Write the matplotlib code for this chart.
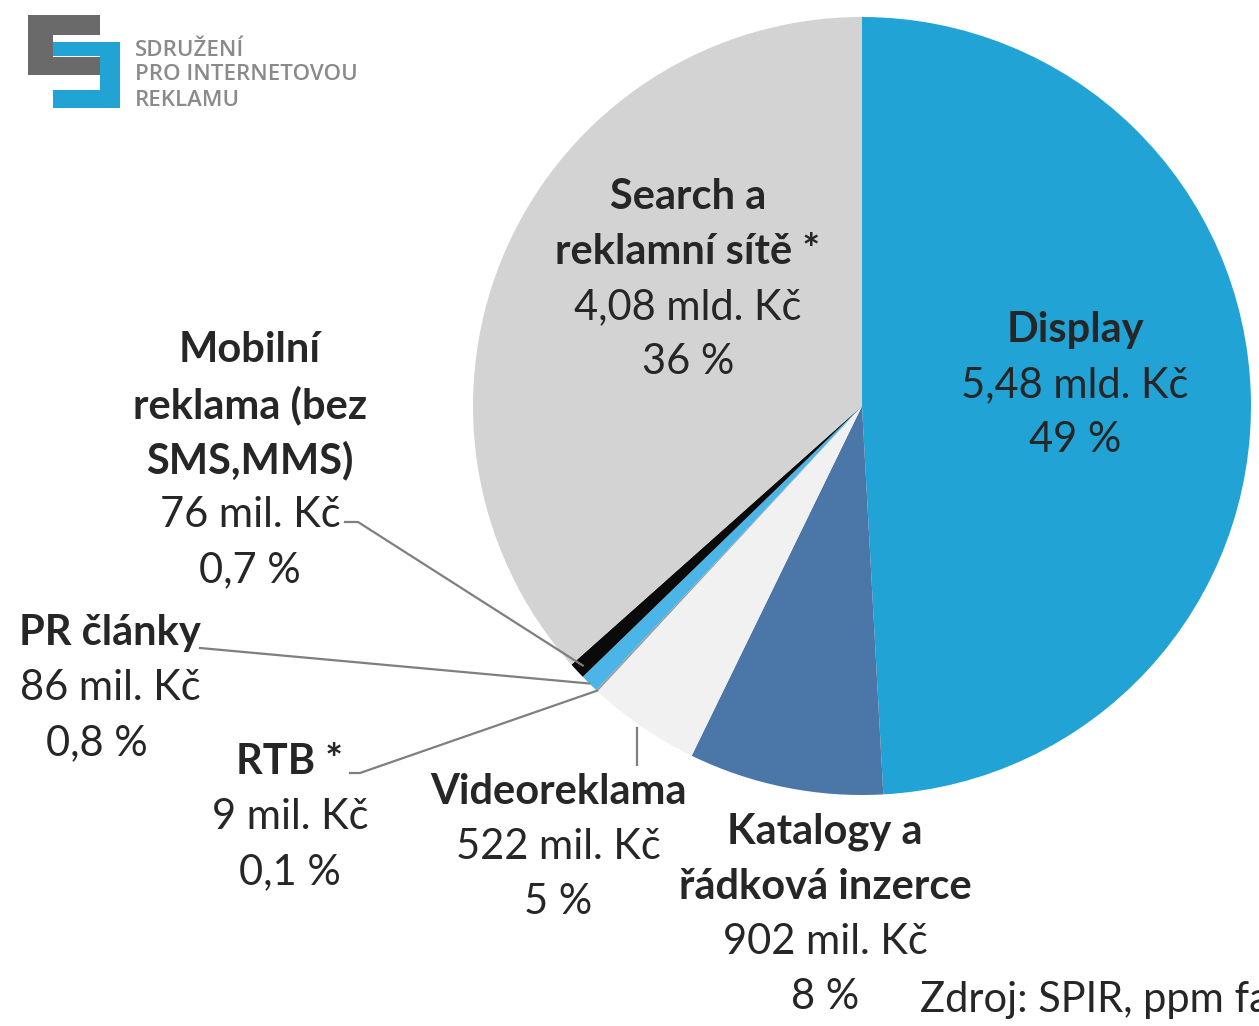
import numpy as np
import matplotlib.pyplot as plt
from matplotlib.patches import Rectangle

categories = ["Display", "Katalogy a\nřádková inzerce", "Videoreklama", "RTB *",
              "PR články", "Mobilní\nreklama (bez\nSMS,MMS)", "Search a\nreklamní sítě *"]
values_mld = [5.48, 0.902, 0.522, 0.009, 0.086, 0.076, 4.08]
amount_labels = ["5,48 mld. Kč", "902 mil. Kč", "522 mil. Kč", "9 mil. Kč",
                 "86 mil. Kč", "76 mil. Kč", "4,08 mld. Kč"]
pct_labels = ["49 %", "8 %", "5 %", "0,1 %", "0,8 %", "0,7 %", "36 %"]
colors = ["#22a3d5", "#4a77a8", "#f1f1f1", "#9a9a9a", "#4cb5e8", "#0a0a0a", "#d3d3d3"]

W, H = 1259, 1026
plt.rcParams['font.family'] = ['Lato', 'DejaVu Sans']
fig = plt.figure(figsize=(W / 100, H / 100), dpi=100)
ax = fig.add_axes([0, 0, 1, 1])


def Y(y):
    # pixel row -> data y
    return H - y


cx, cy, R = 862, Y(406), 389
wedges, _ = ax.pie(values_mld, colors=colors, startangle=90, counterclock=False,
                   center=(cx, cy), radius=R, frame=True,
                   wedgeprops=dict(linewidth=0))
ax.set_xlim(0, W)
ax.set_ylim(0, H)
ax.set_aspect('equal')
ax.axis('off')

txt = "#262626"
fs = 30
lh = 55

# label positions (x, first line y in pixels)
label_pos = [(1075, 330), (825, 832), (558, 792), (290, 762),
             (110, 633), (250, 350), (688, 197)]
for i, (x, y0) in enumerate(label_pos):
    name_lines = categories[i].split("\n")
    for j, line in enumerate(name_lines):
        ax.text(x, Y(y0 + j * lh), line, ha="center", va="center",
                fontsize=fs, fontweight="bold", color=txt)
    n = len(name_lines)
    ax.text(x, Y(y0 + n * lh), amount_labels[i], ha="center", va="center",
            fontsize=fs, color=txt)
    px = x - 13 if i == 4 else x
    ax.text(px, Y(y0 + (n + 1) * lh), pct_labels[i], ha="center", va="center",
            fontsize=fs, color=txt)


def wedge_point(w, r):
    ang = np.deg2rad((w.theta1 + w.theta2) / 2)
    return cx + r * np.cos(ang), cy + r * np.sin(ang)


lc = "#7f7f7f"
# Mobilní
ex, ey = wedge_point(wedges[5], R * 0.98)
ax.plot([345, 358, ex], [Y(522), Y(522), ey], color=lc, lw=1.6)
# PR články
ex, ey = wedge_point(wedges[4], R)
ax.plot([200, ex], [Y(648), ey], color=lc, lw=1.6)
# RTB
ex, ey = wedge_point(wedges[3], R)
ax.plot([350, 360, ex], [Y(773), Y(773), ey], color=lc, lw=1.6)
# Videoreklama
ax.plot([637, 637], [Y(728), Y(765)], color=lc, lw=1.6)

# source note (cut at the right edge, as in the original)
ax.text(920, Y(1000), "Zdroj: SPIR, ppm factum", ha="left", va="center",
        fontsize=fs, color=txt, clip_on=True)

# logo
gray, blue = "#6a6a6a", "#22a3d5"
for (x, y, w, h, c) in [(28, 15, 72, 20, gray), (28, 15, 25, 60, gray),
                        (28, 57, 72, 18, gray),
                        (53, 42, 67, 14, blue), (100, 42, 20, 66, blue),
                        (53, 90, 67, 18, blue)]:
    ax.add_patch(Rectangle((x, Y(y + h)), w, h, color=c, lw=0))
for k, line in enumerate(["SDRUŽENÍ", "PRO INTERNETOVOU", "REKLAMU"]):
    ax.text(135, Y(50 + k * 25), line, ha="left", va="center",
            fontsize=16, fontweight="semibold", family="Open Sans", color="#8a8a8a")

fig.savefig("out.png", dpi=100)
